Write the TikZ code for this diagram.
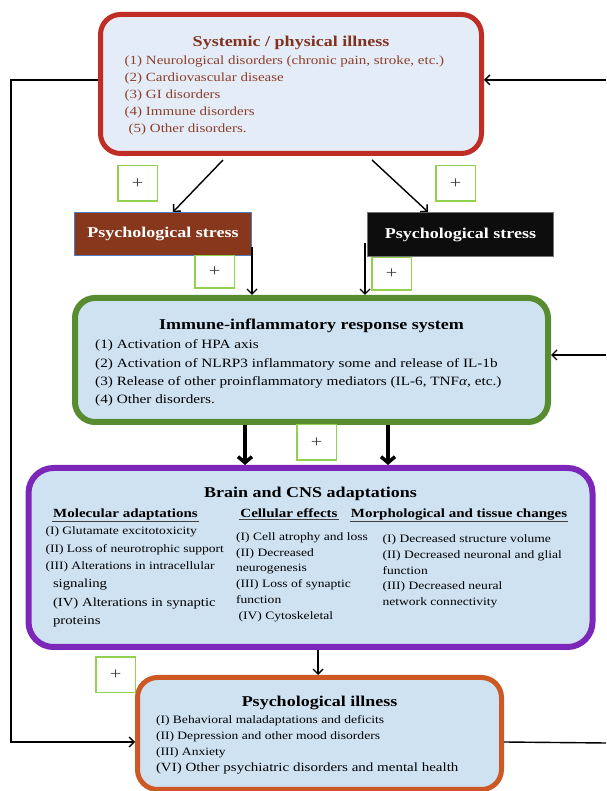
\documentclass[tikz,border=0pt]{standalone}
\usepackage{fontspec}
\setmainfont[FakeStretch=1.2]{Liberation Serif}
\usepackage{tikz}
\usetikzlibrary{positioning,arrows.meta}

\definecolor{sysred}{RGB}{192,45,36}
\definecolor{sysfill}{RGB}{228,236,247}
\definecolor{systext}{RGB}{140,62,42}
\definecolor{systitle}{RGB}{128,50,30}
\definecolor{panelblue}{RGB}{207,226,242}
\definecolor{immgreen}{RGB}{88,140,48}
\definecolor{brainpurple}{RGB}{124,38,186}
\definecolor{psyorange}{RGB}{205,88,35}
\definecolor{stressbrown}{RGB}{135,55,28}
\definecolor{stressedge}{RGB}{80,125,190}
\definecolor{plusgreen}{RGB}{146,208,80}

\begin{document}
\begin{tikzpicture}[x=1pt,y=1pt]
    \tikzstyle{panel}=[draw, rounded corners=20pt, fill=panelblue, inner sep=0pt]
    \tikzstyle{stress}=[draw, line width=1pt, minimum height=43pt, text=white, font=\fontsize{15}{18}\selectfont\bfseries]
    \tikzstyle{plusbox}=[draw=plusgreen, line width=1.5pt, fill=white, minimum width=39.5pt, minimum height=35.5pt, text=black!75, font=\fontsize{17}{17}\selectfont]
    \tikzstyle{boxtitle}=[font=\fontsize{15}{18}\selectfont\bfseries, inner sep=0pt, anchor=base]
    \tikzstyle{colhead}=[font=\fontsize{12.5}{15}\selectfont\bfseries, inner sep=1pt, anchor=base]
    \tikzstyle{items}=[align=left, inner sep=0pt, anchor=north west]
    \tikzstyle{arr}=[line width=1.4pt, -{Straight Barb[length=5pt,width=10pt]}]
    \tikzstyle{bigarr}=[line width=3.5pt, -{Straight Barb[length=6pt,width=14pt]}]
    \useasboundingbox (0,0) rectangle (606,791);

    % the five main panels
    \node[panel, draw=sysred, fill=sysfill, line width=5pt, minimum width=381pt, minimum height=139pt] (sys) at (291,707) {};
    \node[panel, draw=immgreen, line width=6pt, minimum width=473pt, minimum height=124pt] (immune) at (311.5,431) {};
    \node[panel, draw=brainpurple, line width=6pt, rounded corners=25pt, minimum width=564pt, minimum height=179pt] (brain) at (310.5,233.5) {};
    \node[panel, draw=psyorange, line width=5pt, minimum width=364pt, minimum height=112pt] (psych) at (319.5,57.5) {};

    \node[stress, fill=stressbrown, draw=stressedge, minimum width=177pt] (lstress) at (163,557) {Psychological stress};
    \node[stress, fill=black!95, draw=black!55, minimum width=186pt, minimum height=44pt] (rstress) at (460.5,556.5) {Psychological stress};

    % texts
    \node[boxtitle, text=systitle] (systitle) at ([yshift=-34.5pt]sys.north) {Systemic / physical illness};
    \node[items, text=systext, font=\fontsize{12.5}{17}\selectfont] (sysitems) at ([shift={(26.5pt,-43.4pt)}]sys.north west)
        {(1) Neurological disorders (chronic pain, stroke, etc.)\\(2) Cardiovascular disease\\(3) GI disorders\\(4) Immune disorders\\\hspace{4pt}(5) Other disorders.};

    \node[boxtitle] (immtitle) at ([yshift=-35pt]immune.north) {Immune-inflammatory response system};
    \node[items, font=\fontsize{12.7}{18.3}\selectfont] (immitems) at ([shift={(23pt,-44.6pt)}]immune.north west)
        {(1) Activation of HPA axis\\(2) Activation of NLRP3 inflammatory some and release of IL-1b\\(3) Release of other proinflammatory mediators (IL-6, TNF\textit{α}, etc.)\\(4) Other disorders.};

    \node[boxtitle] (braintitle) at ([yshift=-33pt]brain.north) {Brain and CNS adaptations};
    \node[colhead] (molhead) at ([shift={(-185pt,-52.6pt)}]brain.north) {Molecular adaptations};
    \node[colhead] (cellhead) at ([shift={(-21.5pt,-52.6pt)}]brain.north) {Cellular effects};
    \node[colhead] (morphhead) at ([shift={(148.5pt,-52.6pt)}]brain.north) {Morphological and tissue changes};
    \draw[black!75, line width=0.8pt] (molhead.south west) -- (molhead.south east);
    \draw[black!75, line width=0.8pt] (cellhead.south west) -- (cellhead.south east);
    \draw[black!75, line width=0.8pt] (morphhead.south west) -- (morphhead.south east);

    \node[items, font=\fontsize{11.3}{17.5}\selectfont] (molitems) at ([shift={(19.8pt,-61.5pt)}]brain.north west)
        {(I) Glutamate excitotoxicity\\(II) Loss of neurotrophic support\\(III) Alterations in intracellular};
    \node[items, font=\fontsize{12.3}{18.7}\selectfont] (molitems2) at ([shift={(27.3pt,-113.8pt)}]brain.north west)
        {signaling\\(IV) Alterations in synaptic\\proteins};
    \node[items, font=\fontsize{11.3}{15.7}\selectfont] (cellitems) at ([shift={(210.4pt,-67.5pt)}]brain.north west)
        {(I) Cell atrophy and loss\\(II) Decreased\\neurogenesis\\(III) Loss of synaptic\\function\\\hspace{2.5pt}(IV) Cytoskeletal};
    \node[items, font=\fontsize{11.3}{15.7}\selectfont] (morphitems) at ([shift={(356.9pt,-69.8pt)}]brain.north west)
        {(I) Decreased structure volume\\(II) Decreased neuronal and glial\\function\\(III) Decreased neural\\network connectivity};

    \node[boxtitle] (psytitle) at ([yshift=-31.7pt]psych.north) {Psychological illness};
    \node[items, font=\fontsize{11.3}{16.2}\selectfont] (psyitems) at ([shift={(20.8pt,-40pt)}]psych.north west)
        {(I) Behavioral maladaptations and deficits\\(II) Depression and other mood disorders\\(III) Anxiety};
    \node[items, font=\fontsize{12.5}{16}\selectfont] (psyitems2) at ([shift={(20.8pt,-88.1pt)}]psych.north west)
        {(VI) Other psychiatric disorders and mental health};

    % connectors
    \coordinate (rtop) at (606,711);
    \coordinate (rmid) at (606,436);
    \coordinate (rbot) at (606,48);
    \coordinate (lcorner) at (11,711);
    \coordinate (rs) at ([shift={(-2pt,-9pt)}]rstress.west);
    \coordinate (ta) at ([xshift=-66.5pt]immune.south);
    \coordinate (tb) at ([xshift=76.5pt]immune.south);
    \coordinate (tc) at ([xshift=7.5pt]brain.south);

    \draw[arr] ([shift={(-68pt,-4pt)}]sys.south) -- ([xshift=10pt]lstress.north);
    \draw[arr] ([shift={(81pt,-4pt)}]sys.south) -- ([xshift=-32.5pt]rstress.north);
    \draw[arr] ([yshift=-13pt]lstress.east) -- (lstress.east |- immune.north);
    \draw[arr] (rs) -- (rs |- immune.north);
    \draw[bigarr] (ta) -- (ta |- brain.north);
    \draw[bigarr] (tb) -- (tb |- brain.north);
    \draw[arr] (tc) -- (tc |- psych.north);
    \draw[arr] (rtop) -- ([yshift=4pt]sys.east);
    \draw[arr] (rmid) -- ([yshift=5pt]immune.east);
    \draw[line width=1.4pt] ([yshift=-8.5pt]psych.east) -- (rbot);
    \draw[arr] ([yshift=4pt]sys.west) -- (lcorner) |- ([yshift=-8.5pt]psych.west);

    % plus marks
    \node[plusbox] (plus1) at (137.5,607.5) {+};
    \node[plusbox] (plus2) at (455.5,607.5) {+};
    \node[plusbox, minimum height=32.5pt] (plus3) at (214.5,519) {+};
    \node[plusbox, minimum height=32.5pt] (plus4) at (391.5,517) {+};
    \node[plusbox] (plus5) at (316.5,348.5) {+};
    \node[plusbox] (plus6) at (115.7,116.3) {+};
\end{tikzpicture}
\end{document}
